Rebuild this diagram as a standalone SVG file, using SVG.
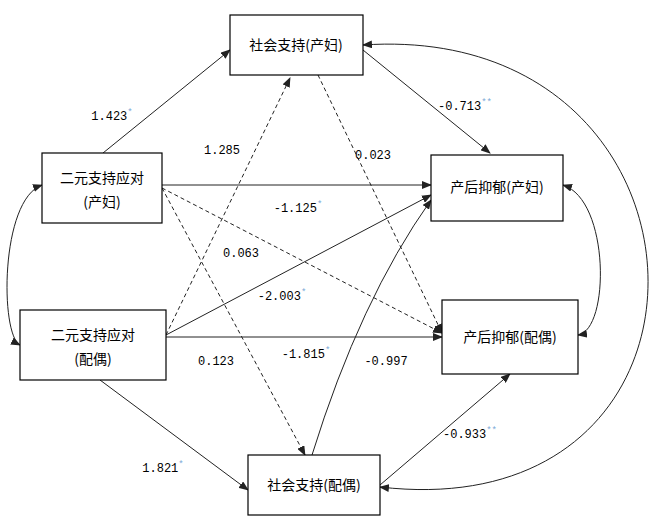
<svg xmlns="http://www.w3.org/2000/svg" width="667" height="525" viewBox="0 0 667 525">
<style>
.b{fill:#fff;stroke:#000;stroke-width:1.2}
.t{font-family:"Noto Sans CJK SC","Liberation Sans",sans-serif;font-size:14px;fill:#000;text-anchor:middle}
.l{font-family:"Liberation Mono",monospace;font-size:12px;fill:#000;text-anchor:middle}
.s{fill:#7aa7d6;font-size:9px}
.c{fill:none;stroke:#222;stroke-width:1}
.d{stroke-dasharray:4,3}
</style>
<defs><marker id="a" markerWidth="10" markerHeight="8" refX="9" refY="4" orient="auto-start-reverse" markerUnits="userSpaceOnUse"><path d="M0,0 L10,4 L0,8 Z" fill="#222"/></marker></defs>
<rect width="667" height="525" fill="#fff"/>
<g id="connectors">
<path class="c" d="M103,153 L230,50" marker-end="url(#a)"/>
<path class="c" d="M363,50 L490,153" marker-end="url(#a)"/>
<path class="c" d="M162,185 L431,185" marker-end="url(#a)"/>
<path class="c d" d="M162,188 L442,333" marker-end="url(#a)"/>
<path class="c d" d="M162,188 L305,455" marker-end="url(#a)"/>
<path class="c d" d="M166,335 L290,78" marker-end="url(#a)"/>
<path class="c d" d="M318,75 L442,333" marker-end="url(#a)"/>
<path class="c" d="M166,335 L431,195" marker-end="url(#a)"/>
<path class="c" d="M166,337 L442,337" marker-end="url(#a)"/>
<path class="c" d="M312,455 Q360,300 431,200" marker-end="url(#a)"/>
<path class="c" d="M380,485 L510,374" marker-end="url(#a)"/>
<path class="c" d="M100,380 L248,490" marker-end="url(#a)"/>
<path class="c" d="M363,45 C730,20 750,530 380,487" marker-start="url(#a)" marker-end="url(#a)"/>
<path class="c" d="M42,185 C0,200 0,335 20,345" marker-start="url(#a)" marker-end="url(#a)"/>
<path class="c" d="M563,185 C610,200 610,330 578,335" marker-start="url(#a)" marker-end="url(#a)"/>
</g>
<g id="labels">
<text class="l" x="112" y="120">1.423<tspan class="s" dy="-5">*</tspan></text>
<text class="l" x="465" y="110">-0.713<tspan class="s" dy="-5">**</tspan></text>
<text class="l" x="222" y="154">1.285</text>
<text class="l" x="373" y="159">0.023</text>
<text class="l" x="298" y="212">-1.125<tspan class="s" dy="-5">*</tspan></text>
<text class="l" x="241" y="257">0.063</text>
<text class="l" x="282" y="300">-2.003<tspan class="s" dy="-5">*</tspan></text>
<text class="l" x="216" y="365">0.123</text>
<text class="l" x="306" y="358">-1.815<tspan class="s" dy="-5">*</tspan></text>
<text class="l" x="386" y="365">-0.997</text>
<text class="l" x="470" y="438">-0.933<tspan class="s" dy="-5">**</tspan></text>
<text class="l" x="163" y="472">1.821<tspan class="s" dy="-5">*</tspan></text>
</g>
<g id="n1"><rect class="b" x="230" y="15" width="133" height="60"/><text class="t" x="296" y="50">社会支持(产妇)</text></g>
<g id="n2"><rect class="b" x="42" y="153" width="120" height="70"/><text class="t" x="102" y="183">二元支持应对</text><text class="t" x="102" y="207">(产妇)</text></g>
<g id="n3"><rect class="b" x="431" y="155" width="132" height="66"/><text class="t" x="497" y="192">产后抑郁(产妇)</text></g>
<g id="n4"><rect class="b" x="20" y="310" width="146" height="70"/><text class="t" x="93" y="340">二元支持应对</text><text class="t" x="93" y="364">(配偶)</text></g>
<g id="n5"><rect class="b" x="442" y="300" width="136" height="74"/><text class="t" x="510" y="342">产后抑郁(配偶)</text></g>
<g id="n6"><rect class="b" x="248" y="455" width="132" height="60"/><text class="t" x="314" y="490">社会支持(配偶)</text></g>
</svg>
